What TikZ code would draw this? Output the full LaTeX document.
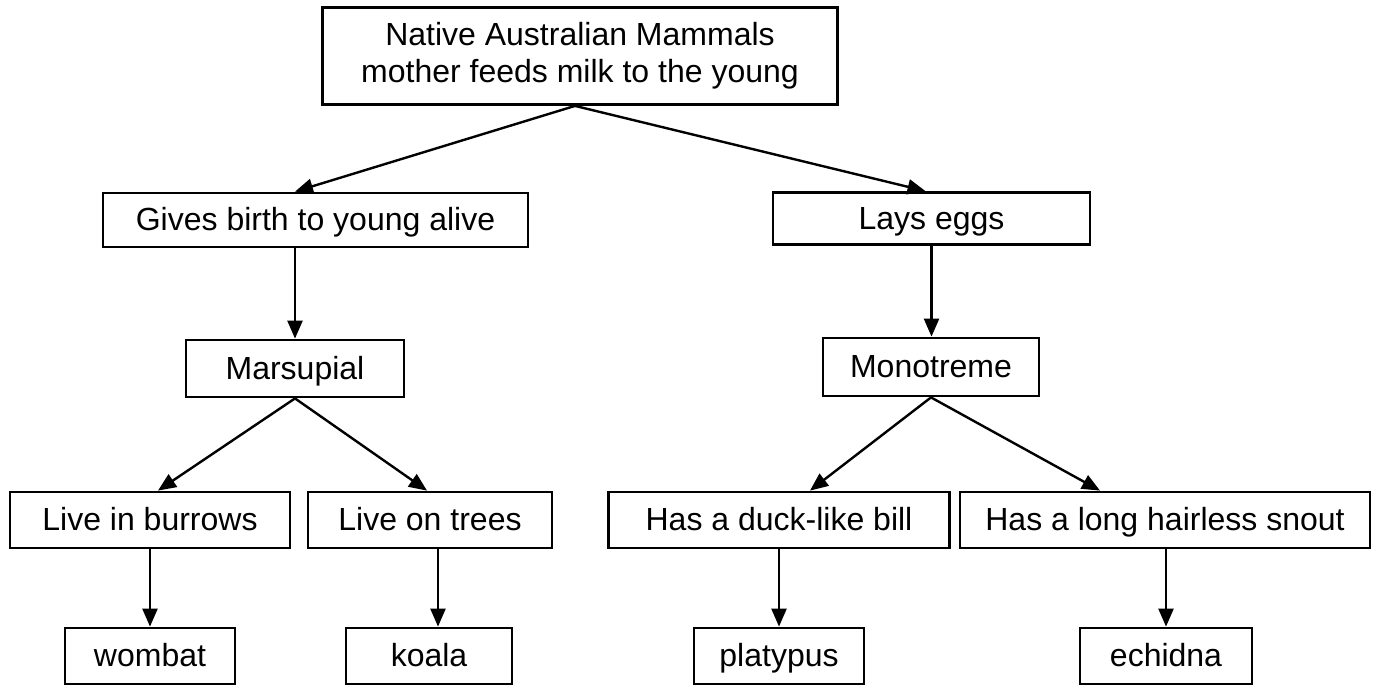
\documentclass[tikz,border=0pt]{standalone}
\usepackage{fontspec}
\setmainfont{Liberation Sans}
\usetikzlibrary{arrows.meta,calc}
\begin{document}
\begin{tikzpicture}[x=1pt,y=-1pt,
  box/.style={draw=black, line width=2.8pt, inner sep=0pt, minimum height=56pt,
    font=\fontsize{32}{37}\selectfont, text=black, align=center,
    text height=25pt, text depth=4pt},
  link/.style={draw=black, line width=2.4pt, -{Triangle[length=18pt,width=15pt]}}]
\useasboundingbox (0,0) rectangle (1375,694);
\fill[white] (0,0) rectangle (1375,694);

% root
\node[box, minimum width=515pt, minimum height=97pt, text height=, text depth=] (root) at (580,56)
  {Native Australian Mammals\\mother feeds milk to the young};

% second level
\node[box, minimum width=425pt, minimum height=54pt] (alive) at (315.5,220) {Gives birth to young alive};
\node[box, minimum width=317pt, minimum height=52pt] (eggs) at (931.5,218.5) {Lays eggs};

% third level
\node[box, minimum width=218pt, minimum height=57pt] (mars) at (295,368.5) {Marsupial};
\node[box, minimum width=216pt, minimum height=58pt] (mono) at (931,367) {Monotreme};

% fourth level
\node[box, minimum width=280pt] (burrow) at (150,520) {Live in burrows};
\node[box, minimum width=244pt] (trees) at (430,520) {Live on trees};
\node[box, minimum width=341pt] (duck) at (779,520) {Has a duck-like bill};
\node[box, minimum width=410pt] (snout) at (1165,520) {Has a long hairless snout};

% leaves
\node[box, minimum width=170pt] (wombat) at (150,656) {wombat};
\node[box, minimum width=166pt] (koala) at (429,656) {koala};
\node[box, minimum width=170pt] (platy) at (779,656) {platypus};
\node[box, minimum width=172pt] (echid) at (1166,656) {echidna};

% connectors
\coordinate (fork) at ($(root.south)+(-5,0)$);
\coordinate (koalain) at ($(koala.north)+(9,0)$);
\draw[link] (fork) -- (alive.north -| mars.north);
\draw[link] (fork) -- ($(eggs.north)+(-6,0)$);
\draw[link] (alive.south -| mars.north) -- (mars.north);
\draw[link] (eggs.south) -- (eggs.south |- mono.north);
\draw[link] (mars.south) -- ($(burrow.north)+(8,0)$);
\draw[link] (mars.south) -- ($(trees.north)+(-3,0)$);
\draw[link] (mono.south) -- ($(duck.north)+(31,0)$);
\draw[link] (mono.south) -- ($(snout.north)+(-65,0)$);
\draw[link] (burrow.south -| wombat.north) -- (wombat.north);
\draw[link] (trees.south -| koalain) -- (koalain);
\draw[link] (duck.south -| platy.north) -- (platy.north);
\draw[link] (snout.south -| echid.north) -- (echid.north);
\end{tikzpicture}
\end{document}
